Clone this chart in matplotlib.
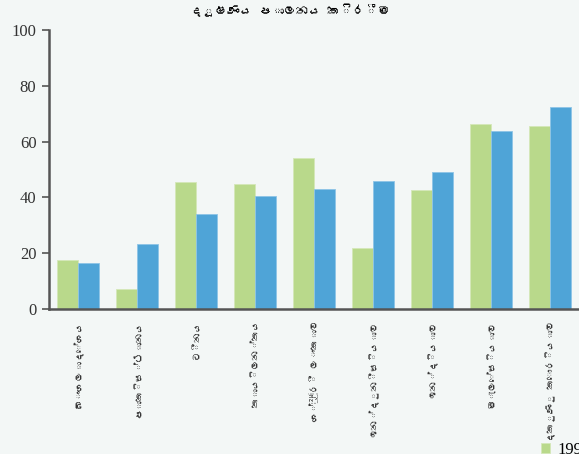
import matplotlib
matplotlib.use('Agg')
import matplotlib.pyplot as plt
from matplotlib import font_manager
import numpy as np

# data
countries = ['බංගලාදේශය', 'පාකිස්ථානය', 'චීනය', 'තායිලන්තය', 'ශ්‍රී ලංකාව',
             'ඉන්දුනීසියාව', 'ඉන්දියාව', 'මැලේසියාව', 'දකුණු කොරියාව']
vals_1996 = [17.6, 7.2, 45.7, 45.0, 54.3, 21.9, 42.8, 66.2, 65.8]
vals_2012 = [16.5, 23.4, 34.2, 40.6, 43.2, 46.0, 49.3, 64.0, 72.3]
series_names = ['1996', '2012']
title = 'දූෂණය පාලනය කිරීම'
yticks = [0, 20, 40, 60, 80, 100]

# look for any installed font that covers Sinhala
sinhala = []
try:
    from fontTools.ttLib import TTFont
    for f in font_manager.findSystemFonts():
        try:
            tt = TTFont(f, fontNumber=0, lazy=True)
            if 0x0DC1 in tt.getBestCmap():
                sinhala.append(font_manager.FontProperties(fname=f).get_name())
        except Exception:
            pass
except Exception:
    pass
sin_family = sinhala[:1] + ['Noto Sans', 'DejaVu Sans']

bg = '#f3f7f6'
green = '#b9d98b'
blue = '#4fa4d7'

fig = plt.figure(figsize=(5.79, 4.54), dpi=100, facecolor=bg)
ax = fig.add_axes([0.0846, 0.3194, 0.917, 0.614])
ax.set_facecolor(bg)

x = np.arange(len(countries))
w = 0.356
ax.bar(x - w/2, vals_1996, w, color=green, edgecolor='#d4e8b8', linewidth=0.6, label=series_names[0])
ax.bar(x + w/2, vals_2012, w, color=blue, edgecolor='#8ec4e6', linewidth=0.6, label=series_names[1])

ax.set_xlim(-0.5, 8.5)
ax.set_ylim(0, 100)
ax.set_yticks(yticks)
ax.set_yticklabels([str(t) for t in yticks], fontfamily='Liberation Serif', fontsize=12, color='#333333')
ax.tick_params(axis='y', length=5, width=1.2, color='#555555', pad=4)
ax.tick_params(axis='x', length=0, pad=8)
ax.set_xticks(x)
ax.set_xticklabels(countries, rotation=90, fontsize=7, family=sin_family, color='#333333')

for s in ['top', 'right']:
    ax.spines[s].set_visible(False)
for s in ['left', 'bottom']:
    ax.spines[s].set_color('#555555')
    ax.spines[s].set_linewidth(1.8)

fig.text(0.5, 0.978, title, ha='center', va='center', fontsize=9, fontweight='bold', family=sin_family)

# legend runs off the right edge, as in the original
fig.legend(loc='lower left', bbox_to_anchor=(0.908, -0.042), ncol=2, frameon=False,
           prop={'family': 'Liberation Serif', 'size': 12}, handlelength=0.55, handleheight=0.55,
           handletextpad=0.45, columnspacing=1.5)

fig.savefig('out.png', dpi=100, facecolor=bg)
